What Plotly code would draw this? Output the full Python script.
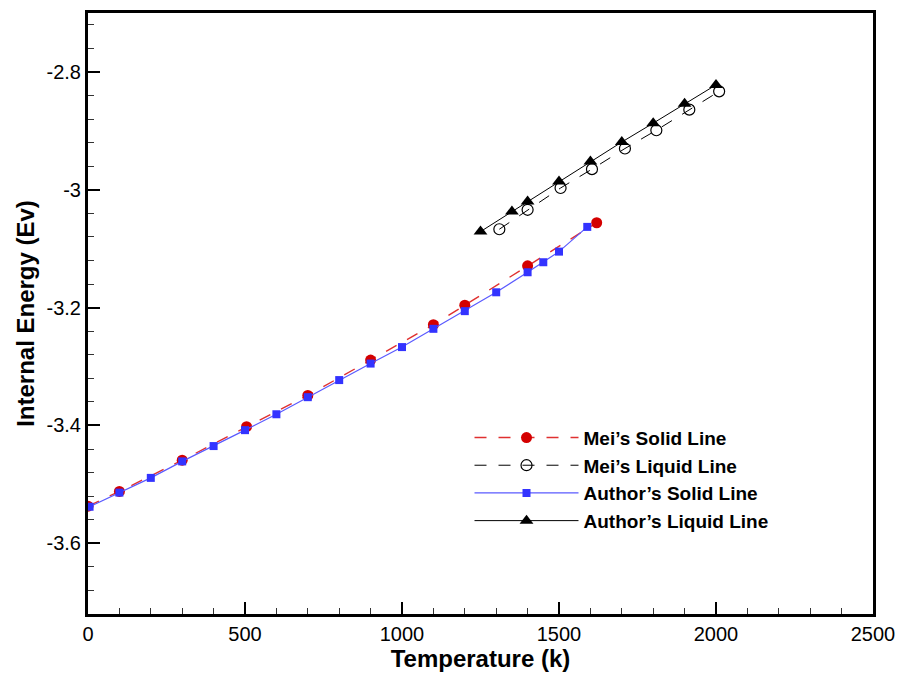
import plotly.graph_objects as go

# Mei's solid line
mei_solid_T = [0, 100, 300, 505, 700, 900, 1100, 1200, 1400, 1620]
mei_solid_E = [-3.537, -3.512, -3.459, -3.402, -3.349, -3.289, -3.229, -3.196, -3.129, -3.056]

# Mei's liquid line
mei_liquid_T = [1310, 1400, 1505, 1605, 1710, 1810, 1915, 2010]
mei_liquid_E = [-3.067, -3.034, -2.997, -2.965, -2.930, -2.899, -2.864, -2.833]

# Author's solid line
auth_solid_T = [5, 100, 200, 300, 400, 500, 600, 700, 800, 900, 1000, 1100, 1200, 1300, 1400, 1450, 1500, 1590]
auth_solid_E = [-3.538, -3.514, -3.489, -3.461, -3.435, -3.408, -3.381, -3.352, -3.323, -3.295,
                -3.267, -3.236, -3.206, -3.174, -3.140, -3.123, -3.105, -3.063]

# Author's liquid line
auth_liquid_T = [1250, 1350, 1400, 1500, 1600, 1700, 1800, 1900, 2000]
auth_liquid_E = [-3.071, -3.037, -3.020, -2.986, -2.952, -2.919, -2.887, -2.854, -2.822]

x_ticks = [0, 500, 1000, 1500, 2000, 2500]
y_ticks = [-3.6, -3.4, -3.2, -3.0, -2.8]
y_ticktext = ["-3.6", "-3.4", "-3.2", "-3", "-2.8"]

FONT = "Arial, 'Liberation Sans', sans-serif"

fig = go.Figure()
fig.add_trace(go.Scatter(
    x=mei_solid_T, y=mei_solid_E, mode="lines+markers", name="Mei\u2019s Solid Line",
    line=dict(color="#e03030", width=1.4, dash="12px,12px"),
    marker=dict(symbol="circle", size=11, color="#d40000"),
    legendgroup="a"))
fig.add_trace(go.Scatter(
    x=mei_liquid_T, y=mei_liquid_E, mode="lines+markers", name="Mei\u2019s Liquid Line",
    line=dict(color="black", width=1, dash="12px,12px"),
    marker=dict(symbol="circle-open", size=11, color="black", line=dict(width=1.2)),
    legendgroup="b"))
fig.add_trace(go.Scatter(
    x=auth_solid_T, y=auth_solid_E, mode="lines+markers", name="Author\u2019s Solid Line",
    line=dict(color="#5a5aff", width=1.2),
    marker=dict(symbol="square", size=8, color="#3333ff"),
    legendgroup="c"))
fig.add_trace(go.Scatter(
    x=auth_liquid_T, y=auth_liquid_E, mode="lines+markers", name="Author\u2019s Liquid Line",
    line=dict(color="black", width=1),
    marker=dict(symbol="triangle-up", size=12, color="black"),
    legendgroup="d"))

fig.update_layout(
    width=905, height=678,
    margin=dict(l=88, r=28, t=10, b=62),
    paper_bgcolor="white", plot_bgcolor="white",
    font=dict(family=FONT, color="black", size=20),
    showlegend=True,
    legend=dict(
        x=0.486, y=0.325, xanchor="left", yanchor="top",
        bgcolor="rgba(0,0,0,0)", borderwidth=0,
        font=dict(family=FONT, size=19, color="black", weight="bold"),
        tracegroupgap=0, itemwidth=104,
    ),
    xaxis=dict(
        range=[0, 2500], tickvals=x_ticks, ticktext=[str(v) for v in x_ticks],
        ticks="inside", ticklen=12, tickwidth=2, tickcolor="black",
        showline=True, linewidth=3, linecolor="black", mirror=True,
        showgrid=False, zeroline=False,
        tickfont=dict(size=20, family=FONT),
        minor=dict(ticks="inside", dtick=100, tick0=0, ticklen=6, tickwidth=1, tickcolor="#333", showgrid=False),
        title=dict(text="<b>Temperature (k)</b>", font=dict(size=24, family=FONT), standoff=6),
    ),
    yaxis=dict(
        range=[-3.72, -2.7], tickvals=y_ticks, ticktext=y_ticktext,
        ticks="inside", ticklen=12, tickwidth=2, tickcolor="black",
        showline=True, linewidth=3, linecolor="black", mirror=True,
        showgrid=False, zeroline=False,
        tickfont=dict(size=20, family=FONT),
        minor=dict(ticks="inside", dtick=0.04, tick0=-2.8, ticklen=6, tickwidth=1, tickcolor="#333", showgrid=False),
        title=dict(text="<b>Internal Energy (Ev)</b>", font=dict(size=24, family=FONT), standoff=6),
    ),
)

fig.write_html("out.html")
